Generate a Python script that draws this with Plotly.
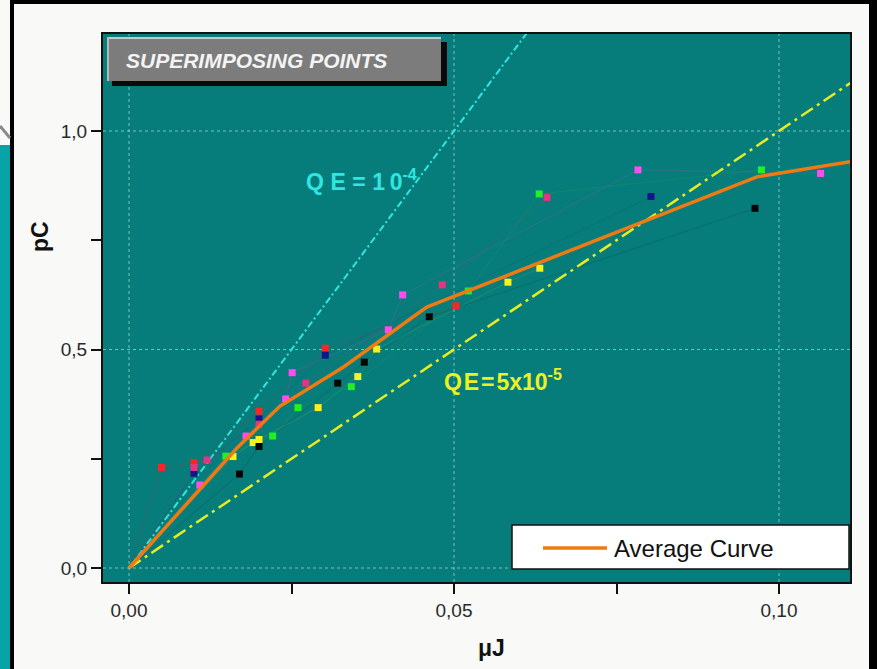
import plotly.graph_objects as go

# ---- measured series: energy (uJ) vs charge (pC) ----
red_x = [0.0, 0.0050, 0.0100, 0.0200, 0.0302, 0.0503]
red_y = [0.0, 0.230, 0.241, 0.359, 0.503, 0.600]

navy_x = [0.0, 0.0100, 0.0200, 0.0302, 0.0803]
navy_y = [0.0, 0.217, 0.341, 0.487, 0.850]

rose_x = [0.0, 0.0100, 0.0120, 0.0200, 0.0272, 0.0482, 0.0643]
rose_y = [0.0, 0.230, 0.247, 0.329, 0.423, 0.648, 0.848]

magenta_x = [0.0, 0.0109, 0.0180, 0.0241, 0.0251, 0.0399, 0.0421, 0.0783, 0.1064]
magenta_y = [0.0, 0.190, 0.302, 0.387, 0.447, 0.545, 0.625, 0.911, 0.903]

green_x = [0.0, 0.0149, 0.0221, 0.0260, 0.0342, 0.0522, 0.0631, 0.0973]
green_y = [0.0, 0.256, 0.302, 0.367, 0.415, 0.634, 0.856, 0.911]

yellow_x = [0.0, 0.0160, 0.0191, 0.0200, 0.0291, 0.0352, 0.0381, 0.0583, 0.0632]
yellow_y = [0.0, 0.255, 0.287, 0.294, 0.367, 0.438, 0.501, 0.654, 0.686]

black_x = [0.0, 0.0170, 0.0200, 0.0321, 0.0362, 0.0462, 0.0963]
black_y = [0.0, 0.215, 0.278, 0.423, 0.471, 0.575, 0.823]

# ---- averaged curve ----
avg_x = [0.0, 0.0167, 0.0232, 0.0330, 0.0458, 0.0966, 0.1110]
avg_y = [0.0, 0.276, 0.370, 0.460, 0.597, 0.895, 0.930]

# ---- constant quantum-efficiency reference lines (pC per uJ) ----
qe_x = [0.0, 0.115]
qe_hi_slope = 20.0   # QE = 1e-4
qe_lo_slope = 10.0   # QE = 5e-5

# tick positions: labelled majors plus unlabelled intermediates
x_ticks = [0.0, 0.025, 0.05, 0.075, 0.10]
x_ticktext = ["0,00", "", "0,05", "", "0,10"]
y_ticks = [0.0, 0.25, 0.5, 0.75, 1.0]
y_ticktext = ["0,0", "", "0,5", "", "1,0"]
x_grid = [0.0, 0.05, 0.10]
y_grid = [0.0, 0.5, 1.0]

# ---- layout geometry (pixels) ----
W, H = 877, 669
L, R, T, B = 103, 850, 34, 582
X_MIN, X_MAX = -0.004, (R - 129) / 6500.0
Y_MIN, Y_MAX = -(B - 568) / 437.0, (568 - T) / 437.0


def px(xp):
    return (xp - L) / (R - L)


def py(yp):
    return (B - yp) / (B - T)


fig = go.Figure()

# dotted grid at the labelled ticks only
grid_line = dict(color="rgba(195,238,238,0.6)", width=1, dash="dot")
for gx in x_grid:
    fig.add_trace(go.Scatter(x=[gx, gx], y=[Y_MIN, Y_MAX], mode="lines",
                             line=grid_line, hoverinfo="skip", showlegend=False))
for gy in y_grid:
    fig.add_trace(go.Scatter(x=[X_MIN, X_MAX], y=[gy, gy], mode="lines",
                             line=grid_line, hoverinfo="skip", showlegend=False))

# reference lines
fig.add_trace(go.Scatter(
    x=qe_x, y=[v * qe_hi_slope for v in qe_x], mode="lines",
    line=dict(color="#2fe6e0", width=2, dash="7px,3px,2px,3px"),
    hoverinfo="skip", showlegend=False))
fig.add_trace(go.Scatter(
    x=qe_x, y=[v * qe_lo_slope for v in qe_x], mode="lines",
    line=dict(color="#e8ec22", width=2.5, dash="14px,5px,3px,5px"),
    hoverinfo="skip", showlegend=False))

series = [
    (red_x, red_y, "#ff2424", "rgba(200,40,40,0.35)"),
    (navy_x, navy_y, "#14148c", "rgba(40,40,140,0.25)"),
    (rose_x, rose_y, "#e8347e", "rgba(200,50,120,0.3)"),
    (magenta_x, magenta_y, "#ff4cf0", "rgba(200,70,200,0.3)"),
    (green_x, green_y, "#22f022", "rgba(40,200,40,0.22)"),
    (yellow_x, yellow_y, "#f6f21a", "rgba(210,210,40,0.22)"),
    (black_x, black_y, "#050505", "rgba(20,20,20,0.22)"),
]
for sx, sy, mc, lc in series:
    fig.add_trace(go.Scatter(
        x=sx, y=sy, mode="lines", line=dict(color=lc, width=0.7),
        hoverinfo="skip", showlegend=False))
for sx, sy, mc, lc in series:
    fig.add_trace(go.Scatter(
        x=sx[1:], y=sy[1:], mode="markers",
        marker=dict(symbol="square", size=7, color=mc, line=dict(width=0)),
        showlegend=False))

fig.add_trace(go.Scatter(
    x=avg_x, y=avg_y, mode="lines", name="Average Curve",
    line=dict(color="#f07a12", width=3.5), showlegend=False))

shapes = []
# page decoration around the chart
shapes.append(dict(type="rect", xref="paper", yref="paper",
                   x0=px(0), x1=px(10), y0=py(669), y1=py(145),
                   fillcolor="#08a3a6", line=dict(width=0), layer="below"))
shapes.append(dict(type="rect", xref="paper", yref="paper",
                   x0=px(10), x1=px(14), y0=py(669), y1=py(0),
                   fillcolor="#000000", line=dict(width=0), layer="below"))
shapes.append(dict(type="rect", xref="paper", yref="paper",
                   x0=px(10), x1=px(877), y0=py(4), y1=py(0),
                   fillcolor="#000000", line=dict(width=0), layer="below"))
shapes.append(dict(type="rect", xref="paper", yref="paper",
                   x0=px(869), x1=px(877), y0=py(669), y1=py(0),
                   fillcolor="#000000", line=dict(width=0), layer="below"))
shapes.append(dict(type="line", xref="paper", yref="paper",
                   x0=px(0), x1=px(10), y0=py(126), y1=py(138),
                   line=dict(color="#8a8a8a", width=3), layer="below"))

# header plate
shapes.append(dict(type="rect", xref="paper", yref="paper",
                   x0=px(112), x1=px(447), y0=py(86), y1=py(42),
                   fillcolor="#0a0a0a", line=dict(width=0)))
shapes.append(dict(type="rect", xref="paper", yref="paper",
                   x0=px(107), x1=px(441), y0=py(81), y1=py(37),
                   fillcolor="#7c7c7c", line=dict(width=0)))
shapes.append(dict(type="line", xref="paper", yref="paper",
                   x0=px(107), x1=px(441), y0=py(38), y1=py(38),
                   line=dict(color="#c8c8c8", width=2)))
shapes.append(dict(type="line", xref="paper", yref="paper",
                   x0=px(108), x1=px(108), y0=py(81), y1=py(37),
                   line=dict(color="#b8b8b8", width=2)))

# legend box
shapes.append(dict(type="rect", xref="paper", yref="paper",
                   x0=px(512), x1=px(849), y0=py(569), y1=py(525),
                   fillcolor="#ffffff", line=dict(color="#111111", width=1.5)))
shapes.append(dict(type="line", xref="paper", yref="paper",
                   x0=px(543), x1=px(607), y0=py(548), y1=py(548),
                   line=dict(color="#f07a12", width=3.5)))

TS = "\u2009\u200a"
annotations = [
    dict(text="<b><i>SUPERIMPOSING POINTS</i></b>", xref="paper", yref="paper",
         x=px(124), y=py(60), xanchor="left", yanchor="middle", showarrow=False,
         font=dict(family="Liberation Sans, Arial", size=21, color="#f4f4f4")),
    dict(text="Average Curve", xref="paper", yref="paper",
         x=px(612), y=py(548), xanchor="left", yanchor="middle", showarrow=False,
         font=dict(family="Liberation Sans, Arial", size=24, color="#111111")),
    dict(text=f"<b>Q{TS}E{TS}={TS}1\u20090<sup>-4</sup></b>", xref="paper", yref="paper",
         x=px(304), y=py(180), xanchor="left", yanchor="middle", showarrow=False,
         font=dict(family="Liberation Sans, Arial", size=23, color="#2fe6e0")),
    dict(text="<b>Q\u200aE\u200a=\u200a5x10<sup>-5</sup></b>", xref="paper", yref="paper",
         x=px(442), y=py(380), xanchor="left", yanchor="middle", showarrow=False,
         font=dict(family="Liberation Sans, Arial", size=23, color="#eef022")),
    dict(text="<b>pC</b>", xref="paper", yref="paper",
         x=px(40), y=py(237), xanchor="center", yanchor="middle", showarrow=False,
         textangle=-90,
         font=dict(family="Liberation Sans, Arial", size=23, color="#111111")),
    dict(text="<b>\u03bcJ</b>", xref="paper", yref="paper",
         x=px(491), y=py(648), xanchor="center", yanchor="middle", showarrow=False,
         font=dict(family="Liberation Sans, Arial", size=23, color="#111111")),
]

fig.update_layout(
    width=W, height=H,
    margin=dict(l=L, r=W - R, t=T, b=H - B),
    paper_bgcolor="#f9f9f8",
    plot_bgcolor="#067d7b",
    shapes=shapes,
    annotations=annotations,
    showlegend=False,
    font=dict(family="Liberation Sans, Arial", size=19, color="#2a2a2a"),
    xaxis=dict(range=[X_MIN, X_MAX], tickmode="array",
               tickvals=x_ticks, ticktext=x_ticktext, ticks="outside",
               ticklen=10, tickwidth=2, tickcolor="#111111",
               showline=True, linecolor="#111111", linewidth=2, mirror=True,
               zeroline=False, showgrid=False),
    yaxis=dict(range=[Y_MIN, Y_MAX], tickmode="array",
               tickvals=y_ticks, ticktext=y_ticktext, ticks="outside",
               ticklen=10, tickwidth=2, tickcolor="#111111",
               showline=True, linecolor="#111111", linewidth=2, mirror=True,
               zeroline=False, showgrid=False),
)

fig.write_html("out.html")
